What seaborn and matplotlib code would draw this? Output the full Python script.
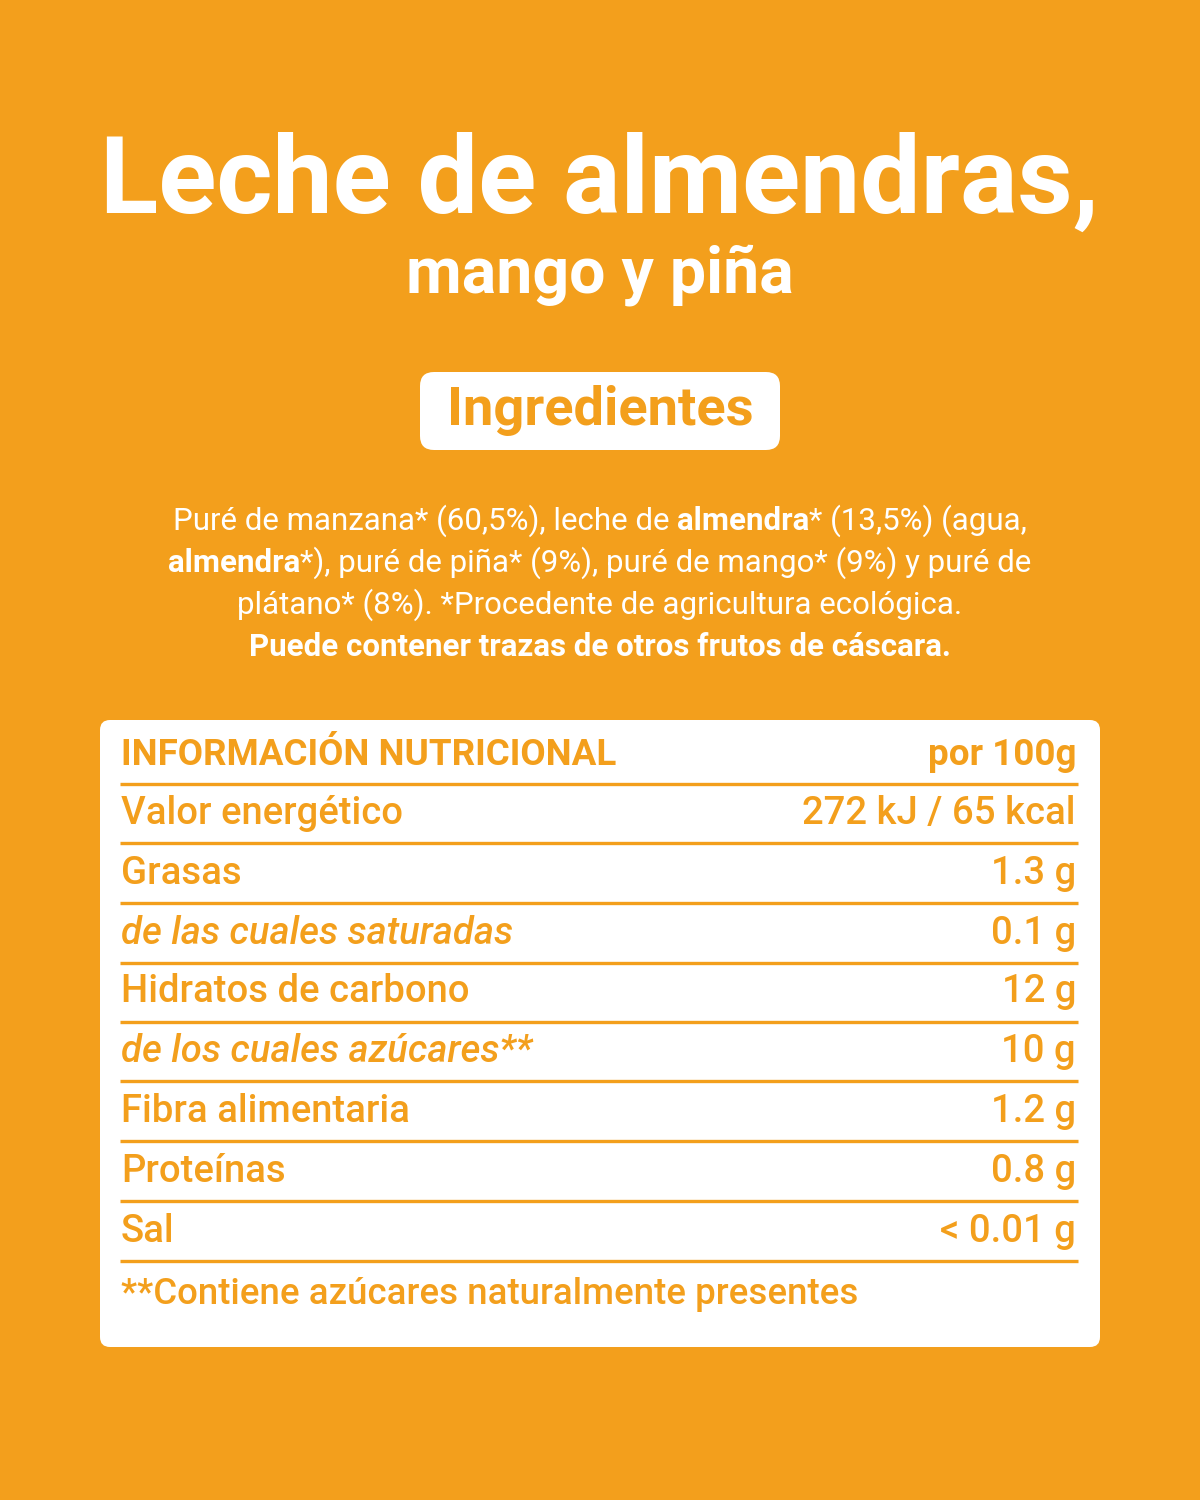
import matplotlib
matplotlib.use("Agg")
import matplotlib.pyplot as plt
import seaborn as sns
from matplotlib.patches import FancyBboxPatch

sns.set_theme(style="white")
plt.rcParams['font.family'] = ['Roboto', 'DejaVu Sans']

ORANGE = "#F39F1C"
WHITE = "#FFFFFF"

title_line1 = "Leche de almendras,"
title_line2 = "mango y piña"
badge = "Ingredientes"
ingredient_lines = [
    [("Puré de manzana* (60,5%), leche de ", False), ("almendra", True), ("* (13,5%) (agua,", False)],
    [("almendra", True), ("*), puré de piña* (9%), puré de mango* (9%) y puré de", False)],
    [("plátano* (8%). *Procedente de agricultura ecológica.", False)],
    [("Puede contener trazas de otros frutos de cáscara.", True)],
]
ingredient_widths = [947, 954, 787, 782]
header_left = "INFORMACIÓN NUTRICIONAL"
header_right = "por 100g"
nutrients = ["Valor energético", "Grasas", "de las cuales saturadas", "Hidratos de carbono",
             "de los cuales azúcares**", "Fibra alimentaria", "Proteínas", "Sal"]
values = ["272 kJ / 65 kcal", "1.3 g", "0.1 g", "12 g", "10 g", "1.2 g", "0.8 g", "< 0.01 g"]
italic_rows = [False, False, True, False, True, False, False, False]
footnote = "**Contiene azúcares naturalmente presentes"

fig = plt.figure(figsize=(12, 15), dpi=100)
fig.patch.set_facecolor(ORANGE)
ax = fig.add_axes([0, 0, 1, 1])
ax.set_xlim(0, 1200); ax.set_ylim(1500, 0); ax.axis("off")
ax.set_facecolor(ORANGE)
fig.canvas.draw()
r = fig.canvas.get_renderer()

def width_px(s, size, weight="normal", style="normal"):
    t = ax.text(0, 0, s, fontsize=size, fontweight=weight, fontstyle=style)
    w = t.get_window_extent(r).width
    t.remove()
    return w

def fit(s, target, weight="bold", style="normal", base=40):
    return base * target / width_px(s, base, weight, style)

# Title
s1 = fit(title_line1, 997)
ax.text(600, 183, title_line1, fontsize=s1, fontweight="bold", color=WHITE, ha="center", va="center")
s2 = fit(title_line2, 435)
ax.text(600, 275, title_line2, fontsize=min(s2, s1 * 0.6), fontweight="bold", color=WHITE, ha="center", va="center")

# Badge
ax.add_patch(FancyBboxPatch((420, 372), 360, 78, boxstyle="round,pad=0,rounding_size=14",
                            fc=WHITE, ec="none"))
sb = fit(badge, 306)
ax.text(600, 410, badge, fontsize=sb, fontweight="bold", color=ORANGE, ha="center", va="center")

# Ingredients
ys = [521, 563, 605, 647]
for segs, tw, y in zip(ingredient_lines, ingredient_widths, ys):
    base = 22
    tot = sum(width_px(s, base, "bold" if b else "normal") for s, b in segs)
    size = min(base * tw / tot, 22.5)
    tot = sum(width_px(s, size, "bold" if b else "normal") for s, b in segs)
    x = 600 - tot / 2
    for s, b in segs:
        w = width_px(s, size, "bold" if b else "normal")
        ax.text(x, y, s, fontsize=size, fontweight="bold" if b else "normal", color=WHITE,
                ha="left", va="center")
        x += w

# Table box
ax.add_patch(FancyBboxPatch((100, 720), 1000, 627, boxstyle="round,pad=0,rounding_size=10",
                            fc=WHITE, ec="none"))
L, R = 121, 1076
hs = fit(header_left, 496)
ax.text(L, 755, header_left, fontsize=hs, fontweight="bold", color=ORANGE, ha="left", va="center")
ax.text(R, 755, header_right, fontsize=hs, fontweight="bold", color=ORANGE, ha="right", va="center")
line_ys = [784, 843, 903, 963, 1022, 1081, 1141, 1201, 1261]
row_ys = [814, 873, 933, 992, 1051, 1111, 1172, 1232]
for ly in line_ys:
    ax.plot([120, 1078], [ly, ly], color=ORANGE, lw=2.4, solid_capstyle="butt")
rs = fit(nutrients[0], 282, weight="medium")
for n, v, it, y in zip(nutrients, values, italic_rows, row_ys):
    st = "italic" if it else "normal"
    ax.text(L, y, n, fontsize=rs, fontweight="medium", fontstyle=st, color=ORANGE, ha="left", va="center")
    ax.text(R, y, v, fontsize=rs, fontweight="medium", color=ORANGE, ha="right", va="center")
fs = fit(footnote, 736, weight="medium")
ax.text(L, 1295, footnote, fontsize=fs, fontweight="medium", color=ORANGE, ha="left", va="center")

fig.savefig("out.png", dpi=100, facecolor=ORANGE)
